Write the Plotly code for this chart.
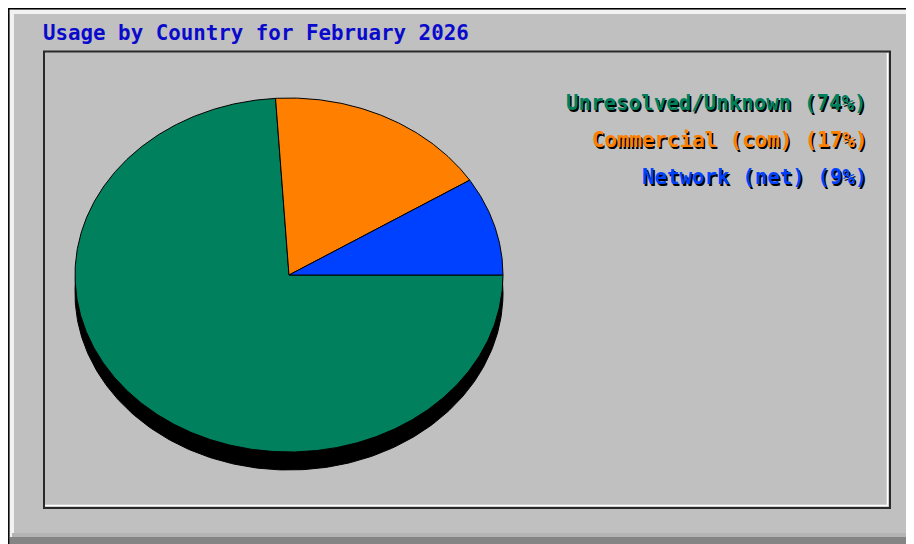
import numpy as np
import plotly.graph_objects as go

# ---- data ----
title_text = "Usage by Country for February 2026"
categories = ["Unresolved/Unknown", "Commercial (com)", "Network (net)"]
percents = [74, 17, 9]
slice_colors = ["#00805c", "#ff8000", "#0040ff"]

# ---- layout geometry (page pixels) ----
W, H = 914, 544
OFF = 8  # page body margin: map data coords to page pixels
CX, CY = 289, 275
RX, RY = 214, 177
DEPTH = 18
FONT = "DejaVu Sans Mono"
FSIZE = 20.8
GRAY = "#c0c0c0"

fig = go.Figure()

def ellipse_pts(a0, a1, cx, cy, n=200):
    t = np.radians(np.linspace(a0, a1, n))
    return cx + RX * np.cos(t), cy - RY * np.sin(t)

# shadow / depth of the pie
ex, ey = ellipse_pts(0, 360, CX, CY + DEPTH, 400)
fig.add_trace(go.Scatter(x=ex, y=ey, fill="toself", fillcolor="#000000",
                         mode="lines", line=dict(color="#000000", width=1),
                         hoverinfo="skip", showlegend=False))

# slices: start at 0 deg, go clockwise in list order
total = float(sum(percents))
start = 0.0
for cat, p, col in zip(categories, percents, slice_colors):
    end = start - 360.0 * p / total
    sx, sy = ellipse_pts(start, end, CX, CY, max(int(abs(end - start)) * 2, 10))
    xs = np.concatenate([[CX], sx, [CX]])
    ys = np.concatenate([[CY], sy, [CY]])
    fig.add_trace(go.Scatter(x=xs, y=ys, fill="toself", fillcolor=col,
                             mode="lines", line=dict(color="#000000", width=1),
                             name=cat, hoverinfo="name", showlegend=False))
    start = end

XR = W + OFF + 2
YR = H + OFF + 2
shapes = []
# outer panel
shapes.append(dict(type="rect", x0=8, y0=8, x1=XR, y1=YR, fillcolor=GRAY,
                   line=dict(width=0), layer="below"))
shapes.append(dict(type="rect", x0=9, y0=9.5, x1=XR, y1=14, fillcolor="#f2f2f2",
                   line=dict(width=0), layer="below"))
shapes.append(dict(type="rect", x0=9.5, y0=9.5, x1=14, y1=538, fillcolor="#f2f2f2",
                   line=dict(width=0), layer="below"))
shapes.append(dict(type="rect", x0=14, y0=14, x1=XR, y1=534, fillcolor=GRAY,
                   line=dict(width=0), layer="below"))
shapes.append(dict(type="rect", x0=12, y0=533, x1=XR, y1=537, fillcolor="#b4b4b4",
                   line=dict(width=0), layer="below"))
shapes.append(dict(type="rect", x0=10, y0=537, x1=XR, y1=YR, fillcolor="#858585",
                   line=dict(width=0), layer="below"))
shapes.append(dict(type="line", x0=8, y0=8.8, x1=XR, y1=8.8,
                   line=dict(color="#000000", width=1.5), layer="below"))
shapes.append(dict(type="line", x0=8.8, y0=8, x1=8.8, y1=YR,
                   line=dict(color="#000000", width=1.5), layer="below"))
# inner box
shapes.append(dict(type="line", x0=887.5, y0=53, x1=887.5, y1=506,
                   line=dict(color="#ffffff", width=1.5), layer="below"))
shapes.append(dict(type="line", x0=45, y0=505.5, x1=888, y1=505.5,
                   line=dict(color="#ffffff", width=1.5), layer="below"))
shapes.append(dict(type="rect", x0=44, y0=51.5, x1=890, y1=508,
                   line=dict(color="#2a2a2a", width=2), layer="below"))

annotations = [dict(x=41, y=33, xref="x", yref="y", text=title_text, showarrow=False,
                    xanchor="left", yanchor="middle",
                    font=dict(family=FONT, size=FSIZE, color="#0a0acc", weight="bold"))]

row_y = [103, 140, 177]
for cat, p, col, yy in zip(categories, percents, slice_colors, row_y):
    label = f"{cat} ({p}%)"
    annotations.append(dict(x=869, y=yy, xref="x", yref="y", text=label, showarrow=False,
                            xanchor="right", yanchor="middle",
                            font=dict(family=FONT, size=FSIZE, color=col, weight="bold",
                                      shadow="1.5px 1.5px 0px #000000")))

fig.update_layout(
    width=W, height=H,
    margin=dict(l=0, r=0, t=0, b=0),
    paper_bgcolor="#ffffff", plot_bgcolor="rgba(0,0,0,0)",
    xaxis=dict(range=[OFF, W + OFF], visible=False, fixedrange=True, domain=[0, 1]),
    yaxis=dict(range=[H + OFF, OFF], visible=False, fixedrange=True, domain=[0, 1]),
    shapes=shapes, annotations=annotations, showlegend=False,
)

fig.write_html("out.html", config={"displayModeBar": False})
